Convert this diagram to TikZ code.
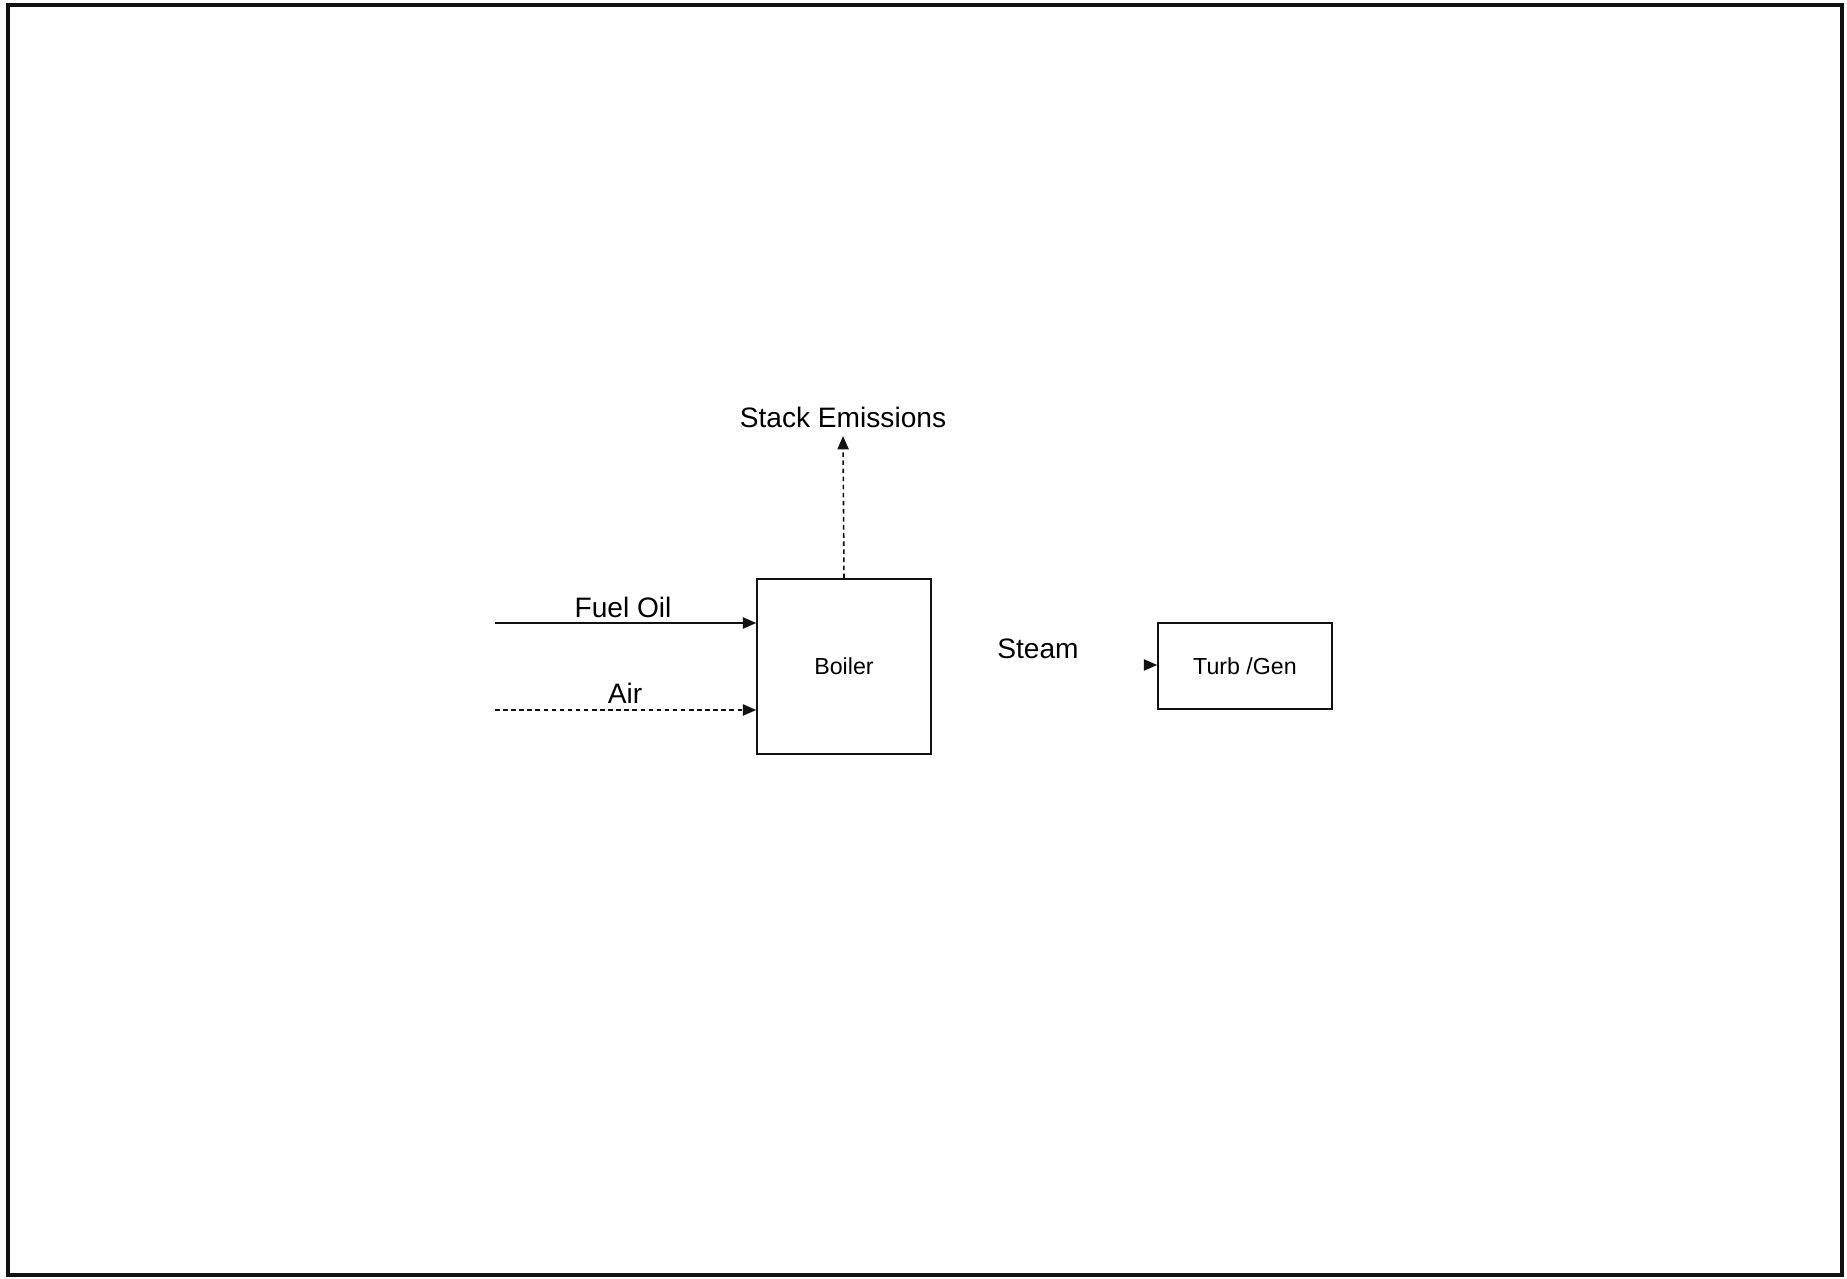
\documentclass[tikz,border=0pt]{standalone}
\usepackage{fontspec}
\setmainfont{Liberation Sans}
\usepackage{tikz}
\usetikzlibrary{arrows.meta, positioning, calc}
\definecolor{inkblack}{HTML}{111111}
\tikzset{
  unitbox/.style={draw=inkblack, line width=0.45pt, inner sep=0pt, font=\fontsize{6.6}{8}\selectfont},
  flowlabel/.style={font=\fontsize{8}{9.6}\selectfont, inner sep=0pt},
  flow/.style={draw=inkblack, line width=0.45pt, -{Triangle[length=3.8pt, width=3.2pt]}},
  dotflow/.style={flow, dash pattern=on 1.3pt off 1pt}
}

\begin{document}
\begin{tikzpicture}
    \useasboundingbox (0,0) rectangle (18.47,12.78);
    % page frame
    \draw[inkblack, line width=1pt] (0.08,0.03) rectangle (18.42,12.73);

    % Boiler and Turb/Gen boxes
    \node[unitbox, minimum width=1.74cm, minimum height=1.75cm] (boiler) at (8.44,6.115) {Boiler};
    \node[unitbox, minimum width=1.74cm, minimum height=0.86cm] (turbgen) at (12.45,6.12) {Turb /Gen};

    % inputs
    \coordinate (fueltail) at (4.95,6.55);
    \coordinate (airtail) at (4.95,5.68);
    \draw[flow] (fueltail) -- (fueltail -| boiler.west);
    \draw[dotflow] (airtail) -- (airtail -| boiler.west);
    \node[flowlabel] (fuellabel) at (6.23,6.71) {Fuel Oil};
    \node[flowlabel] (airlabel) at (6.25,5.85) {Air};

    % stack emissions
    \node[flowlabel] (stack) at (8.43,8.61) {Stack Emissions};
    \draw[dotflow] (boiler.north) -- ($(stack.south)+(0,-0.08)$);

    % steam to turbine
    \node[flowlabel] (steam) at (10.38,6.29) {Steam};
    \coordinate (steamtail) at ($(turbgen.west)+(-0.13,0.01)$);
    \draw[flow] (steamtail) -- (steamtail -| turbgen.west);
  \end{tikzpicture}
\end{document}
